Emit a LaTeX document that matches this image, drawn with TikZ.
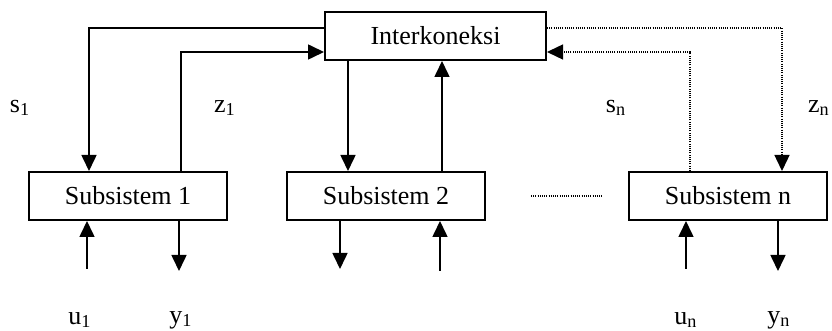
\documentclass[tikz,border=0pt]{standalone}
\usepackage{fontspec}
\setmainfont{Liberation Serif}
\usetikzlibrary{arrows.meta,calc}
\begin{document}
\begin{tikzpicture}[x=0.5pt,y=-0.5pt,
  blk/.style={draw,line width=1pt,minimum height=24pt,inner sep=0pt,font=\fontsize{13}{15}\selectfont},
  sblk/.style={blk,minimum width=99pt},
  arr/.style={line width=0.8pt,-{Triangle[length=8pt,width=7.5pt]}},
  dotarr/.style={line width=0.7pt,dash pattern=on 0.5pt off 0.6pt,-{Triangle[length=8pt,width=7.5pt]}},
  dotline/.style={line width=0.7pt,dash pattern=on 0.5pt off 0.6pt},
  lbl/.style={font=\fontsize{13}{15}\selectfont,inner sep=0pt}]
\clip (0,0) rectangle (832,331);
\node[blk,minimum width=110.5pt] (inter) at (435.5,36) {Interkoneksi};
\node[sblk] (sub1) at (128,196) {Subsistem 1};
\node[sblk] (sub2) at (386,196) {Subsistem 2};
\node[sblk] (subn) at (728,196) {Subsistem n};
% upper connectors
\draw[arr] ($(inter.west)+(0,-8)$) -| ($(sub1.north)+(-39,0)$);
\draw[arr] ($(sub1.north)+(53,0)$) |- ($(inter.west)+(0,16)$);
\draw[arr] ($(inter.south)+(-87.5,0)$) -- ($(sub2.north)+(-38,0)$);
\draw[arr] ($(sub2.north)+(56,0)$) -- ($(inter.south)+(6.5,0)$);
\draw[dotarr] ($(inter.east)+(0,-8)$) -| ($(subn.north)+(54,0)$);
\draw[dotarr] ($(subn.north)+(-38,0)$) |- ($(inter.east)+(0,16)$);
% dots between subsystems
\coordinate (dl) at ($(sub2.east)+(45,0)$);
\coordinate (dr) at ($(subn.west)+(-25,0)$);
\draw[dotline] (dl) -- (dr);
% free ends below
\coordinate (u1e) at ($(sub1.south)+(-41,48)$);
\coordinate (y1e) at ($(sub1.south)+(51,50)$);
\coordinate (y2e) at ($(sub2.south)+(-46,48)$);
\coordinate (u2e) at ($(sub2.south)+(54,50)$);
\coordinate (une) at ($(subn.south)+(-42,48)$);
\coordinate (yne) at ($(subn.south)+(50,50)$);
\draw[arr] (u1e) -- (u1e |- sub1.south);
\draw[arr] (y1e |- sub1.south) -- (y1e);
\draw[arr] (y2e |- sub2.south) -- (y2e);
\draw[arr] (u2e) -- (u2e |- sub2.south);
\draw[arr] (une) -- (une |- subn.south);
\draw[arr] (yne |- subn.south) -- (yne);
% labels
\node[lbl] (ls1) at (20,108) {s\textsubscript{1}};
\node[lbl] (lz1) at (225,108) {z\textsubscript{1}};
\node[lbl] (lsn) at (616,108) {s\textsubscript{n}};
\node[lbl] (lzn) at (819,108) {z\textsubscript{n}};
\node[lbl] (lu1) at (80,320) {u\textsubscript{1}};
\node[lbl] (ly1) at (181,320) {y\textsubscript{1}};
\node[lbl] (lun) at (686,320) {u\textsubscript{n}};
\node[lbl] (lyn) at (779,320) {y\textsubscript{n}};
\end{tikzpicture}
\end{document}
